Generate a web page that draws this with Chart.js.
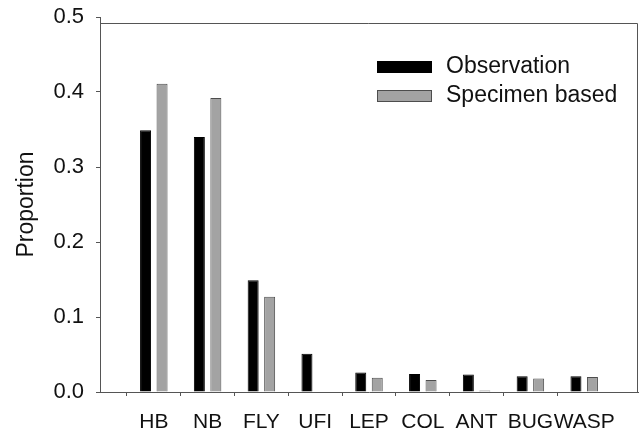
<!DOCTYPE html>
<html>
<head>
<meta charset="utf-8">
<script src="https://cdn.jsdelivr.net/npm/chart.js@4/dist/chart.umd.min.js"></script>
<style>
  html, body { margin: 0; padding: 0; background: #fff; }
  #wrap { width: 641px; height: 435px; }
</style>
</head>
<body>
<div id="wrap"><canvas id="myChart" width="641" height="435"></canvas></div>
<script>
var categories = ["HB", "NB", "FLY", "UFI", "LEP", "COL", "ANT", "BUG", "WASP"];
var observation = [0.349, 0.340, 0.149, 0.051, 0.026, 0.024, 0.0235, 0.021, 0.021];
var specimen = [0.411, 0.392, 0.127, 0, 0.019, 0.016, 0.002, 0.018, 0.020];
var yTicks = [0, 0.1, 0.2, 0.3, 0.4, 0.5];
var seriesNames = ["Observation", "Specimen based"];

var FONT = "'Liberation Sans', Arial, sans-serif";

// pad the category axis with empty slots so the ends line up like the original
var labels = [""].concat(categories, [""]);
function pad(arr){ return [null].concat(arr, [null]); }

var framePlugin = {
  id: "frame",
  afterDraw: function(chart){
    var ctx = chart.ctx, a = chart.chartArea, y = chart.scales.y;
    var top = y.getPixelForValue(0.492);
    ctx.save();
    ctx.strokeStyle = "#555";
    ctx.lineWidth = 1;
    ctx.beginPath();
    ctx.moveTo(a.left, top + 0.5);
    ctx.lineTo(a.right - 0.5, top + 0.5);
    ctx.lineTo(a.right - 0.5, a.bottom);
    ctx.stroke();

    // legend inside the plot
    var lx = a.right - 261, ly = top + 44;
    chart.data.datasets.forEach(function(ds, i){
      var yy = ly + i * 29;
      ctx.fillStyle = ds.backgroundColor;
      ctx.fillRect(lx, yy - 6, 55, 12);
      ctx.strokeStyle = ds.borderColor;
      ctx.strokeRect(lx + 0.5, yy - 5.5, 54, 11);
      ctx.fillStyle = "#111";
      ctx.font = "23px " + FONT;
      ctx.textBaseline = "middle";
      ctx.fillText(ds.label, lx + 69, yy);
    });
    ctx.restore();
  }
};

var ctx = document.getElementById("myChart");
var myChart = new Chart(ctx, {
  type: "bar",
  data: {
    labels: labels,
    datasets: [
      {
        label: seriesNames[0],
        data: pad(observation),
        backgroundColor: "#000000",
        borderColor: "#000000",
        borderWidth: 1
      },
      {
        label: seriesNames[1],
        data: pad(specimen),
        backgroundColor: "#a3a3a3",
        borderColor: "#4d4d4d",
        borderWidth: 1
      }
    ]
  },
  options: {
    responsive: false,
    animation: false,
    layout: { padding: { top: 17, right: 3, left: 0, bottom: 0 } },
    categoryPercentage: 0.613,
    barPercentage: 0.667,
    plugins: {
      legend: { display: false },
      tooltip: { enabled: false }
    },
    scales: {
      x: {
        offset: false,
        grid: {
          drawOnChartArea: false,
          drawTicks: true,
          tickLength: 4,
          tickColor: function(c){ return (c.index === 0 || c.index === labels.length - 1) ? "rgba(0,0,0,0)" : "#555"; }
        },
        border: { display: true, color: "#555" },
        ticks: {
          autoSkip: false,
          maxRotation: 0,
          padding: 14,
          color: "#111",
          font: { family: FONT, size: 21 }
        },
        afterFit: function(s){ s.height = 43; s.paddingLeft = 0; s.paddingRight = 0; }
      },
      y: {
        min: 0,
        max: 0.5,
        afterBuildTicks: function(s){ s.ticks = yTicks.map(function(v){ return { value: v }; }); },
        grid: {
          drawOnChartArea: false,
          drawTicks: true,
          tickLength: 4,
          tickColor: "#555"
        },
        border: { display: true, color: "#555" },
        ticks: {
          padding: 12,
          color: "#111",
          font: { family: FONT, size: 22 },
          callback: function(v){ return Number(v).toFixed(1); }
        },
        title: {
          display: true,
          text: "Proportion",
          color: "#111",
          padding: { top: 13, bottom: 0 },
          font: { family: FONT, size: 23 }
        },
        afterFit: function(s){ s.width = 100; s.paddingTop = 0; s.paddingBottom = 0; }
      }
    }
  },
  plugins: [framePlugin]
});
</script>
</body>
</html>
